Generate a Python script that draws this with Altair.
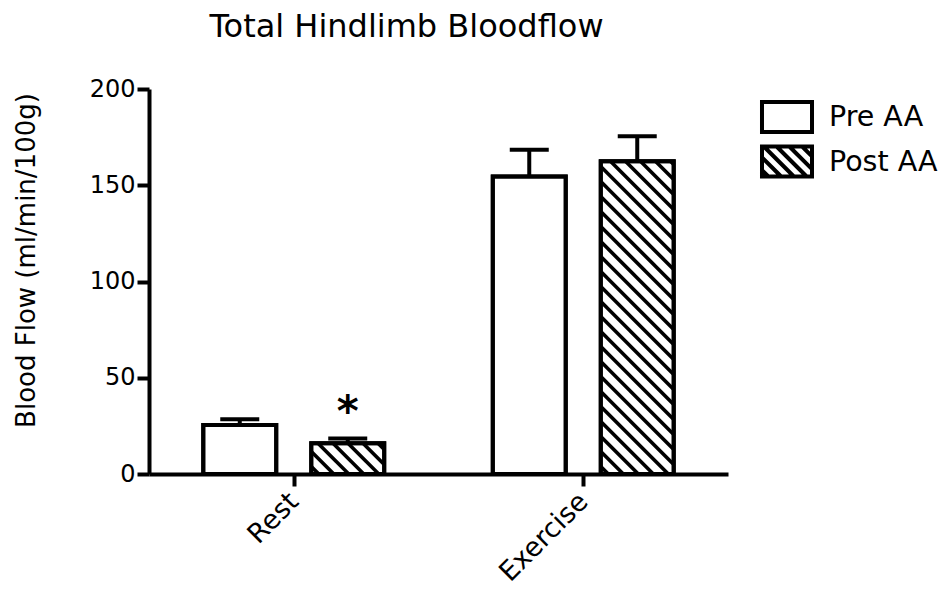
import altair as alt
import pandas as pd

# ---------------- data ----------------
groups = ["Rest", "Exercise"]
series = ["Pre AA", "Post AA"]
mean_pre = [25.5, 154.5]
mean_post = [16.0, 162.5]
err_pre = [3.0, 14.0]
err_post = [2.5, 13.0]
sig_pre = ["", ""]
sig_post = ["*", ""]
y_ticks = [0, 50, 100, 150, 200]
title_text = "Total Hindlimb Bloodflow"
y_title = "Blood Flow (ml/min/100g)"

# ---------------- layout / style ----------------
FONT = "DejaVu Sans"
W, H = 579, 385
X_DOMAIN = [0, len(groups)]
Y_DOMAIN = [0, 200]
OFFSETS = {"Pre AA": -0.1865, "Post AA": 0.1865}
HALF = 0.126
SX = W / (X_DOMAIN[1] - X_DOMAIN[0])
SY = H / (Y_DOMAIN[1] - Y_DOMAIN[0])
HATCH_SPACING = 15.0
HATCHED = {"Post AA"}

rows = []
for s, means, errs, sigs in [("Pre AA", mean_pre, err_pre, sig_pre),
                             ("Post AA", mean_post, err_post, sig_post)]:
    for gi, g in enumerate(groups):
        xc = gi + 0.5 + OFFSETS[s]
        rows.append(dict(group=g, series=s, mean=means[gi], upper=means[gi] + errs[gi],
                         xc=xc, x0=xc - HALF, x1=xc + HALF, mid=means[gi] / 2.0, sig=sigs[gi]))
bars = pd.DataFrame(rows)

# hatch segments (45 deg in pixel space) clipped to each hatched bar
hatch_rows = []
for r in rows:
    if r["series"] not in HATCHED:
        continue
    X0, X1, Hp = r["x0"] * SX, r["x1"] * SX, r["mean"] * SY
    k = X0 + HATCH_SPACING * 0.5
    while k < X1 + Hp:
        xa = max(X0, k - Hp)
        xb = min(X1, k)
        if xb > xa:
            hatch_rows.append(dict(hx=xa / SX, hy=(k - xa) / SY, hx2=xb / SX, hy2=(k - xb) / SY))
        k += HATCH_SPACING
hatch = pd.DataFrame(hatch_rows)

# legend symbol paths
LHW, LHH = 5.0 / 3.0, 1.0
def rect_path(hw, hh):
    return f"M{-hw:.3f},{-hh:.3f}H{hw:.3f}V{hh:.3f}H{-hw:.3f}Z"
pre_path = rect_path(LHW, LHH)
post_path = pre_path
step = 0.85
a = -LHW - LHH + step * 0.5
while a < LHW + LHH:
    xa = max(-LHW, a - LHH)
    xb = min(LHW, a + LHH)
    if xb > xa:
        post_path += f"M{xa:.3f},{xa - a:.3f}L{xb:.3f},{xb - a:.3f}"
    a += step

xs = alt.Scale(domain=X_DOMAIN, nice=False, zero=False)
ys = alt.Scale(domain=Y_DOMAIN, nice=False, zero=False)
label_expr = "[" + ",".join("'" + g + "'" for g in groups) + "][floor(datum.value)]"
x_axis = alt.Axis(values=[i + 0.5 for i in range(len(groups))], labelExpr=label_expr, title=None,
                  grid=False, tickSize=12, tickWidth=4, domainWidth=4, labelAngle=-45,
                  labelAlign="right", labelBaseline="top", labelFontSize=27, labelPadding=2,
                  labelOffset=-9,
                  labelFont=FONT, labelColor="black", domainColor="black", tickColor="black")
y_axis = alt.Axis(values=y_ticks, title=y_title, grid=False, tickSize=12, tickWidth=4,
                  domainWidth=4, labelFontSize=24, labelPadding=2, titleFontSize=26,
                  titlePadding=50, titleY=171, titleFontWeight="normal", labelFont=FONT,
                  titleFont=FONT, labelColor="black", titleColor="black", domainColor="black",
                  tickColor="black")

def X(f):
    return alt.X(f, type="quantitative", scale=xs, axis=x_axis)

def Y(f):
    return alt.Y(f, type="quantitative", scale=ys, axis=y_axis)

legend = alt.Legend(title=None, orient="none", legendX=621, legendY=11, symbolSize=900,
                    symbolStrokeWidth=4, symbolStrokeColor="black", symbolFillColor="white",
                    symbolOpacity=1, labelFontSize=28.5, labelFont=FONT, labelColor="black",
                    labelOffset=25, rowPadding=-1.5)

legend_layer = alt.Chart(bars).mark_point(filled=False, opacity=0, size=900, strokeWidth=4,
                                          color="black").encode(
    x=X("xc"), y=Y("mid"),
    shape=alt.Shape("series:N", scale=alt.Scale(domain=series, range=[pre_path, post_path]),
                    legend=legend))

fill_layer = alt.Chart(bars).mark_rect(fill="white", stroke="black", strokeWidth=4,
                                       strokeJoin="miter").encode(
    x=X("x0"), x2="x1", y=Y("zero"), y2="mean"
).transform_calculate(zero="0")

hatch_layer = alt.Chart(hatch).mark_rule(color="black", strokeWidth=3.6, strokeCap="butt").encode(
    x=X("hx"), y=Y("hy"), x2="hx2", y2="hy2")

outline_layer = alt.Chart(bars).mark_rect(fillOpacity=0, stroke="black", strokeWidth=4,
                                          strokeJoin="miter").encode(
    x=X("x0"), x2="x1", y=Y("zero"), y2="mean"
).transform_calculate(zero="0")

err_layer = alt.Chart(bars).mark_rule(color="black", strokeWidth=4).encode(
    x=X("xc"), y=Y("mean"), y2="upper")

cap_layer = alt.Chart(bars).mark_tick(orient="horizontal", size=39, thickness=4, color="black",
                                      opacity=1).encode(x=X("xc"), y=Y("upper"))

sig_layer = alt.Chart(bars).transform_filter("datum.sig != ''").mark_text(
    fontSize=42, fontWeight="bold", font=FONT, baseline="alphabetic", align="center",
    dy=-12, color="black").encode(x=X("xc"), y=Y("upper"), text="sig:N")

chart = alt.layer(legend_layer, fill_layer, hatch_layer, outline_layer, err_layer, cap_layer,
                  sig_layer).properties(
    width=W, height=H, background="white",
    padding={"left": 5, "top": 3, "right": 5, "bottom": 5},
    title=alt.Title(title_text, fontSize=32, font=FONT, fontWeight="normal", anchor="middle",
                    frame="group", dx=-32, offset=33, color="black"),
).configure_view(stroke=None).configure_axis(
    labelFont=FONT, titleFont=FONT, labelColor="black", titleColor="black",
    domainColor="black", tickColor="black"
)

chart.save("out.html", embed_options={"renderer": "svg", "actions": False})
